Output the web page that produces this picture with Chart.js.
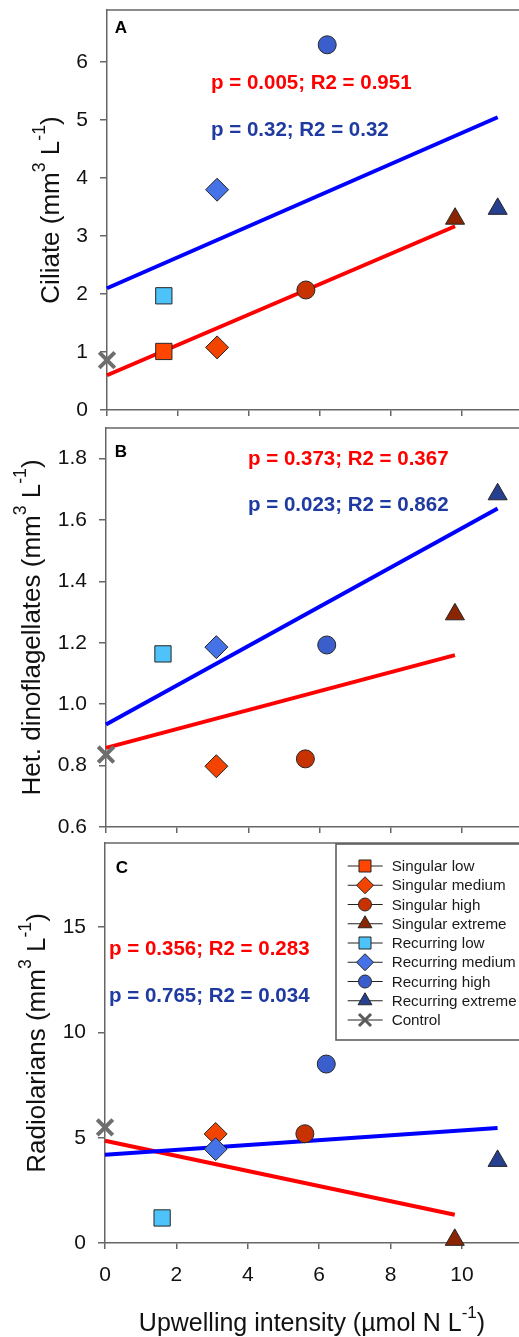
<!DOCTYPE html>
<html><head><meta charset="utf-8">
<script src="https://cdn.jsdelivr.net/npm/chart.js@4.4.1/dist/chart.umd.min.js"></script>
<style>
html,body{margin:0;padding:0;background:#fff;}
body{width:519px;height:1337px;position:relative;overflow:hidden;}
canvas{position:absolute;left:0;}
</style></head><body>
<canvas id="cA" width="519" height="418" style="top:0px;width:519px;height:418px"></canvas>
<canvas id="cB" width="519" height="418" style="top:418px;width:519px;height:418px"></canvas>
<canvas id="cC" width="519" height="501" style="top:836px;width:519px;height:501px"></canvas>
<script>
// ---------------- data ----------------
const seriesNames = ['Singular low','Singular medium','Singular high','Singular extreme',
  'Recurring low','Recurring medium','Recurring high','Recurring extreme','Control'];
const upwelling = [1.6, 3.1, 5.6, 9.8, 1.6, 3.1, 6.2, 11.0, 0];
const ciliate = [1.01, 1.08, 2.07, 3.30, 1.97, 3.80, 6.30, 3.47, 0.86];
const hetDino = [null, 0.798, 0.822, 1.293, 1.164, 1.186, 1.193, 1.684, 0.836];
const radiolarians = [null, 5.18, 5.19, 0.15, 1.19, 4.46, 8.50, 3.90, 5.49];

const fitXSingular = [0, 9.8];
const fitXRecurring = [0, 11.0];
const ciliateFitSingular = [0.60, 3.17];
const ciliateFitRecurring = [2.10, 5.05];
const dinoFitSingular = [0.858, 1.16];
const dinoFitRecurring = [0.934, 1.638];
const radioFitSingular = [4.86, 1.34];
const radioFitRecurring = [4.19, 5.46];

const xTicks = [0, 2, 4, 6, 8, 10];
const ciliateTicks = [0, 1, 2, 3, 4, 5, 6];
const dinoTicks = [0.6, 0.8, 1.0, 1.2, 1.4, 1.6, 1.8];
const radioTicks = [0, 5, 10, 15];

const notesA = ['p = 0.005; R2 = 0.951', 'p = 0.32; R2 = 0.32'];
const notesB = ['p = 0.373; R2 = 0.367', 'p = 0.023; R2 = 0.862'];
const notesC = ['p = 0.356; R2 = 0.283', 'p = 0.765; R2 = 0.034'];

// ---------------- styles ----------------
const FONT = "'Liberation Sans', Arial, sans-serif";
const AX = '#666666';
const RED = '#ff0000', BLUE = '#1f3aa0';
const styles = ['rect','rectRot','circle','triangle','rect','rectRot','circle','triangle','crossRot'];
const radii = [11.5, 11.5, 9, 11, 11.5, 11.5, 9, 11, 11];
const legendRadii = [8.5, 8.5, 6.5, 8, 8.5, 8.5, 6.5, 8, 8.5];
const fills = ['#ff4500','#f24400','#c83200','#8b2400','#4dc3fa','#4572e6','#3a5fcd','#263f8f','#7a7a7a'];

function makeDatasets(values, fitS, fitR) {
  const ds = seriesNames.map((name, i) => ({
    label: name,
    data: values[i] == null ? [] : [{x: upwelling[i], y: values[i]}],
    pointStyle: styles[i], pointRadius: radii[i], pointHoverRadius: radii[i],
    backgroundColor: fills[i],
    borderColor: i === 8 ? '#6e6e6e' : '#262626',
    borderWidth: i === 8 ? 4 : 1,
    clip: false, order: 10 - i
  }));
  ds.push({label:'fit recurring', data: fitXRecurring.map((x,k)=>({x, y: fitR[k]})), showLine:true,
    borderColor:'#0000ff', borderWidth:4, pointRadius:0, clip:false, order:20});
  ds.push({label:'fit singular', data: fitXSingular.map((x,k)=>({x, y: fitS[k]})), showLine:true,
    borderColor:'#ff0000', borderWidth:4, pointRadius:0, clip:false, order:21});
  return ds;
}

function drawRich(ctx, parts, x, y, size, rotate, bold) {
  ctx.save();
  ctx.translate(x, y);
  if (rotate) ctx.rotate(-Math.PI / 2);
  const supSize = size * 0.68, rise = size * 0.52;
  const w = (bold ? 'bold ' : '');
  let total = 0;
  const widths = parts.map(p => { ctx.font = w + (p.sup ? supSize : size) + 'px ' + FONT; const m = ctx.measureText(p.t).width; total += m; return m; });
  let cx = -total / 2;
  ctx.textAlign = 'left'; ctx.textBaseline = 'alphabetic'; ctx.fillStyle = '#111';
  parts.forEach((p, i) => { ctx.font = w + (p.sup ? supSize : size) + 'px ' + FONT; ctx.fillText(p.t, cx, p.sup ? -rise : 0); cx += widths[i]; });
  ctx.restore();
}

const panelDecor = {
  cA: { letter:'A', ldx:14, ldy:18, notes:notesA, n1:[104,73], n2:[104,120],
        yTitle:[{t:'Ciliate (mm'},{t:'3',sup:true},{t:' L'},{t:'-1',sup:true},{t:')'}], yTitleX:59 },
  cB: { letter:'B', ldx:15, ldy:24, notes:notesB, n1:[142,31], n2:[142,77],
        yTitle:[{t:'Het. dinoflagellates (mm'},{t:'3',sup:true},{t:' L'},{t:'-1',sup:true},{t:')'}], yTitleX:40 },
  cC: { letter:'C', ldx:17, ldy:25, notes:notesC, n1:[4,106], n2:[4,153],
        yTitle:[{t:'Radiolarians (mm'},{t:'3',sup:true},{t:' L'},{t:'-1',sup:true},{t:')'}], yTitleX:45,
        xTitle:[{t:'Upwelling intensity (\u00b5mol N L'},{t:'-1',sup:true},{t:')'}], legend:true }
};

const decor = {
  id: 'decor',
  afterDraw(chart) {
    const d = panelDecor[chart.canvas.id]; if (!d) return;
    const ctx = chart.ctx, a = chart.chartArea;
    ctx.save();
    // top frame line
    ctx.strokeStyle = AX; ctx.lineWidth = 1.5;
    ctx.beginPath(); ctx.moveTo(a.left, a.top); ctx.lineTo(chart.width + 2, a.top); ctx.stroke();
    // panel letter
    ctx.fillStyle = '#000'; ctx.font = 'bold 17px ' + FONT; ctx.textAlign = 'center'; ctx.textBaseline = 'middle';
    ctx.fillText(d.letter, a.left + d.ldx, a.top + d.ldy);
    // regression notes
    ctx.font = 'bold 20.5px ' + FONT; ctx.textAlign = 'left';
    ctx.fillStyle = RED; ctx.fillText(d.notes[0], a.left + d.n1[0], a.top + d.n1[1]);
    ctx.fillStyle = BLUE; ctx.fillText(d.notes[1], a.left + d.n2[0], a.top + d.n2[1]);
    // axis titles
    drawRich(ctx, d.yTitle, d.yTitleX, (a.top + a.bottom) / 2, 26, true, false);
    if (d.xTitle) drawRich(ctx, d.xTitle, (a.left + chart.width) / 2, a.bottom + 88, 25, false, false);
    // legend
    if (d.legend) {
      const bx = a.left + 231, by = a.top + 1, bb = a.top + 197;
      ctx.fillStyle = '#fff'; ctx.fillRect(bx, by, chart.width - bx + 5, bb - by);
      ctx.strokeStyle = '#555'; ctx.lineWidth = 1.5; ctx.strokeRect(bx, by, chart.width - bx + 5, bb - by);
      seriesNames.forEach((name, i) => {
        const ry = a.top + 23 + i * 19.25, mx = a.left + 260;
        ctx.strokeStyle = '#222'; ctx.lineWidth = 1;
        ctx.beginPath(); ctx.moveTo(a.left + 242.7, ry); ctx.lineTo(a.left + 277.7, ry); ctx.stroke();
        ctx.fillStyle = fills[i];
        ctx.strokeStyle = i === 8 ? '#5a5a5a' : '#262626';
        ctx.lineWidth = i === 8 ? 3 : 1;
        Chart.helpers.drawPoint(ctx, {pointStyle: styles[i], radius: legendRadii[i], rotation: 0, borderWidth: ctx.lineWidth}, mx, ry);
        ctx.fillStyle = '#1a1a1a'; ctx.font = '15.2px ' + FONT; ctx.textAlign = 'left'; ctx.textBaseline = 'middle';
        ctx.fillText(name, a.left + 286.7, ry + 1);
      });
    }
    ctx.restore();
  }
};

function buildChart(id, cfg) {
  return new Chart(document.getElementById(id), {
    type: 'scatter',
    data: { datasets: makeDatasets(cfg.values, cfg.fitS, cfg.fitR) },
    options: {
      responsive: false, animation: false, devicePixelRatio: 1,
      layout: { autoPadding: false, padding: { top: cfg.padTop, left: 0, right: 0, bottom: 0 } },
      plugins: { legend: {display:false}, tooltip: {enabled:false} },
      events: [],
      scales: {
        x: { type:'linear', min:0, max:11.6,
          afterBuildTicks: s => { s.ticks = xTicks.map(v => ({value:v})); },
          afterFit: s => { s.height = cfg.xHeight; s.paddingLeft = 0; s.paddingRight = 0; },
          grid: { drawOnChartArea:false, drawTicks:true, tickLength:6, color:AX, lineWidth:1.5 },
          border: { display:true, color:AX, width:1.5 },
          ticks: { display: cfg.showX, padding: 14, color:'#111', font:{family:FONT, size:21}, maxRotation:0 } },
        y: { type:'linear', min:cfg.yMin, max:cfg.yMax,
          afterBuildTicks: s => { s.ticks = cfg.yTicks.map(v => ({value:v})); },
          afterFit: s => { s.width = cfg.left; s.paddingTop = 0; s.paddingBottom = 0; },
          grid: { drawOnChartArea:false, drawTicks:true, tickLength:7, color:AX, lineWidth:1.5 },
          border: { display:true, color:AX, width:1.5 },
          ticks: { padding: 12, color:'#111', font:{family:FONT, size:21}, callback: cfg.fmt } }
      }
    },
    plugins: [decor]
  });
}

buildChart('cA', { values: ciliate, fitS: ciliateFitSingular, fitR: ciliateFitRecurring,
  yMin:0, yMax:6.9, yTicks: ciliateTicks, fmt: v => String(v), padTop:10, xHeight:8, left:107, showX:false });
buildChart('cB', { values: hetDino, fitS: dinoFitSingular, fitR: dinoFitRecurring,
  yMin:0.6, yMax:1.9, yTicks: dinoTicks, fmt: v => Number(v).toFixed(1), padTop:10, xHeight:9, left:106, showX:false });
buildChart('cC', { values: radiolarians, fitS: radioFitSingular, fitR: radioFitRecurring,
  yMin:0, yMax:19, yTicks: radioTicks, fmt: v => String(v), padTop:7, xHeight:94, left:105, showX:true });
</script>
</body></html>
